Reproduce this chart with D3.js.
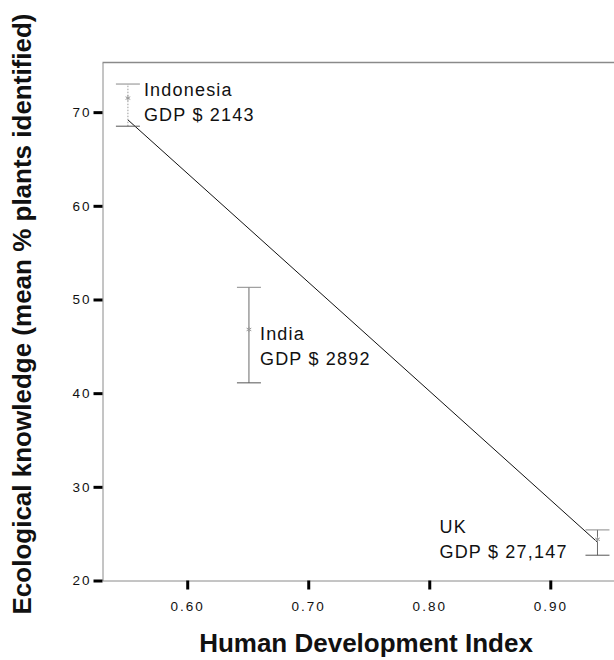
<!DOCTYPE html>
<html>
<head>
<meta charset="utf-8">
<script src="https://cdn.jsdelivr.net/npm/d3@7"></script>
<style>
  html, body { margin: 0; padding: 0; background: #fff; }
  svg { display: block; font-family: 'Liberation Sans', Arial, sans-serif; }
</style>
</head>
<body>
<div class="chart"></div>
<script>
// countries, HDI and ecological knowledge (mean, error bar low / high)
const countries = ['Indonesia', 'India', 'UK'];
const gdpLabels = ['GDP $ 2143', 'GDP $ 2892', 'GDP $ 27,147'];
const hdi = [0.551, 0.651, 0.939];
const knowledgeMean = [71.5, 46.8, 24.4];
const knowledgeLow = [68.5, 41.1, 22.7];
const knowledgeHigh = [73.0, 51.3, 25.4];

// fitted regression line: knowledge = intercept + slope * hdi
const fitIntercept = 133.2;
const fitSlope = -116.2;

const xTicks = [0.6, 0.7, 0.8, 0.9];
const yTicks = [20, 30, 40, 50, 60, 70];

const data = countries.map((c, i) => ({
  country: c,
  gdp: gdpLabels[i],
  hdi: hdi[i],
  mean: knowledgeMean[i],
  low: knowledgeLow[i],
  high: knowledgeHigh[i],
}));

const width = 614;
const height = 660;
const margin = { top: 62.5, right: -21, bottom: 79.5, left: 102.5 };

const svg = d3
  .select('.chart')
  .append('svg')
  .attr('width', width)
  .attr('height', height);

const xScale = d3
  .scaleLinear()
  .domain([0.53, 0.97])
  .range([margin.left, width - margin.right]);
const yScale = d3
  .scaleLinear()
  .domain([20, 75.3])
  .range([height - margin.bottom, margin.top]);

// top border of the frame
svg
  .append('line')
  .attr('x1', margin.left)
  .attr('x2', width)
  .attr('y1', margin.top)
  .attr('y2', margin.top)
  .attr('stroke', '#8a8a8a')
  .attr('stroke-width', 1.5);

// axes
const xAxis = svg
  .append('g')
  .attr('transform', `translate(0, ${height - margin.bottom})`)
  .call(
    d3
      .axisBottom(xScale)
      .tickValues(xTicks)
      .tickFormat(d3.format('.2f'))
      .tickSize(9)
      .tickSizeOuter(0)
      .tickPadding(12),
  );
const yAxis = svg
  .append('g')
  .attr('transform', `translate(${margin.left}, 0)`)
  .call(
    d3
      .axisLeft(yScale)
      .tickValues(yTicks)
      .tickSize(9)
      .tickSizeOuter(0)
      .tickPadding(2),
  );

[xAxis, yAxis].forEach(axis => {
  axis.select('.domain').attr('stroke', '#8a8a8a').attr('stroke-width', 1);
  axis.selectAll('.tick line').attr('stroke', '#000').attr('stroke-width', 3);
  axis
    .selectAll('.tick text')
    .attr('fill', '#111')
    .style('font-size', '13.5px')
    .style('letter-spacing', '2px')
    .style('font-family', "'Liberation Sans', Arial, sans-serif");
});

// regression line
const fitLine = d3
  .line()
  .x(d => xScale(d))
  .y(d => yScale(fitIntercept + fitSlope * d));
svg
  .append('path')
  .datum(d3.extent(hdi))
  .attr('d', fitLine)
  .attr('fill', 'none')
  .attr('stroke', '#111')
  .attr('stroke-width', 1);

// error bars
const bars = svg.append('g').selectAll('g').data(data).enter().append('g');
bars
  .append('line')
  .attr('x1', d => xScale(d.hdi))
  .attr('x2', d => xScale(d.hdi))
  .attr('y1', d => yScale(d.low))
  .attr('y2', d => yScale(d.high))
  .attr('stroke', d => (d.country === 'Indonesia' ? '#9a9a9a' : '#6a6a6a'))
  .attr('stroke-dasharray', d => (d.country === 'Indonesia' ? '1.5,1.5' : null))
  .attr('stroke-width', 1);
['low', 'high'].forEach(k => {
  bars
    .append('line')
    .attr('x1', d => xScale(d.hdi) - 12)
    .attr('x2', d => xScale(d.hdi) + 12)
    .attr('y1', d => yScale(d[k]))
    .attr('y2', d => yScale(d[k]))
    .attr('stroke', k === 'high' ? '#8a8a8a' : '#555')
    .attr('stroke-width', 1);
});

// mean markers
bars
  .append('path')
  .attr('transform', d => `translate(${xScale(d.hdi)}, ${yScale(d.mean)})`)
  .attr('d', d3.symbol().type(d3.symbolAsterisk).size(20))
  .attr('fill', 'none')
  .attr('stroke', '#999')
  .attr('stroke-width', 1);

// country annotations (offsets from the mean point)
const labelOffsets = {
  Indonesia: [16, -2.5],
  India: [11, 11],
  UK: [-158, -6.5],
};
const labels = svg
  .append('g')
  .selectAll('text')
  .data(data)
  .enter()
  .append('text')
  .attr('x', d => xScale(d.hdi) + labelOffsets[d.country][0])
  .attr('y', d => yScale(d.mean) + labelOffsets[d.country][1])
  .attr('fill', '#111')
  .style('font-size', '18px')
  .style('letter-spacing', '1.2px');
labels
  .append('tspan')
  .text(d => d.country);
labels
  .append('tspan')
  .attr('x', d => xScale(d.hdi) + labelOffsets[d.country][0])
  .attr('dy', 25)
  .text(d => d.gdp);

// axis titles
svg
  .append('text')
  .attr('x', 366)
  .attr('y', 652)
  .attr('text-anchor', 'middle')
  .style('font-size', '26px')
  .style('font-weight', 'bold')
  .attr('fill', '#111')
  .text('Human Development Index');
svg
  .append('text')
  .attr('transform', 'translate(31, 314) rotate(-90)')
  .attr('text-anchor', 'middle')
  .style('font-size', '26px')
  .style('font-weight', 'bold')
  .attr('fill', '#111')
  .text('Ecological knowledge (mean % plants identified)');
</script>
</body>
</html>
